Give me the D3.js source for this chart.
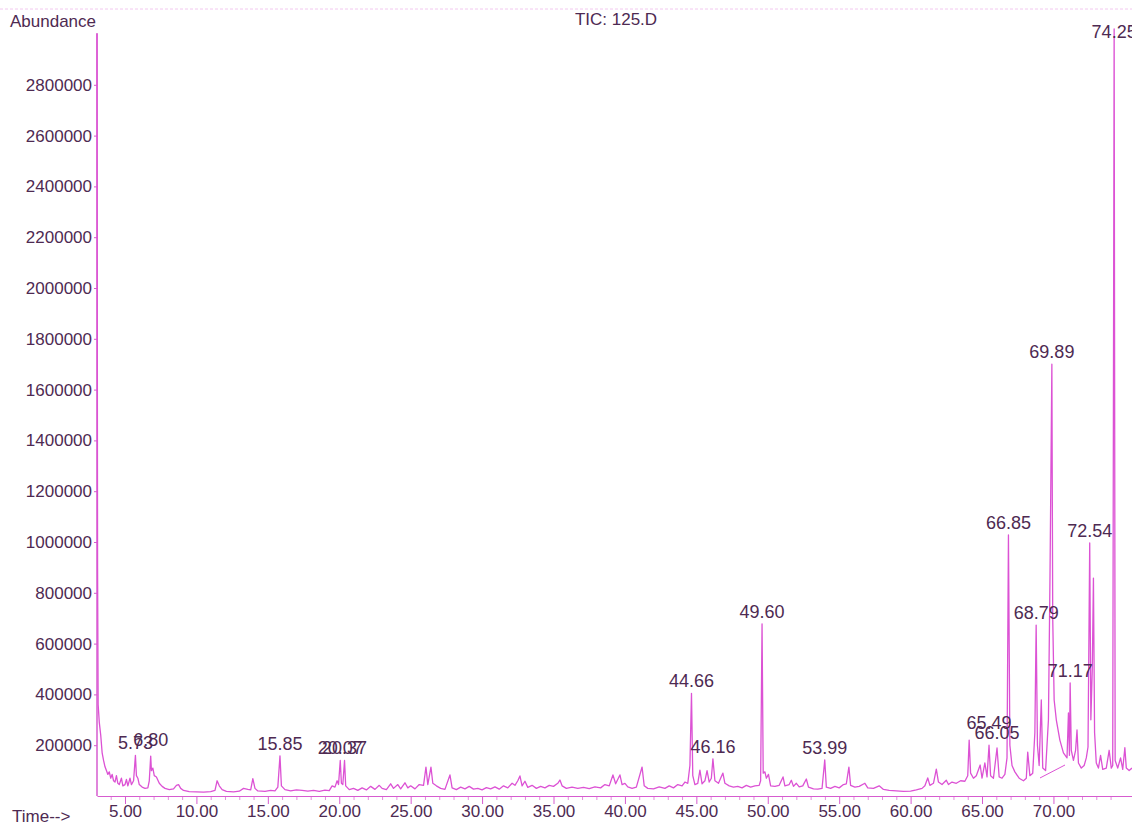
<!DOCTYPE html>
<html>
<head>
<meta charset="utf-8">
<script src="https://cdn.jsdelivr.net/npm/d3@7"></script>
<style>
  html, body { margin: 0; padding: 0; background: #ffffff; }
  svg { display: block; }
  text { font-family: "Liberation Sans", Arial, sans-serif; }
</style>
</head>
<body>
<svg id="chart" width="1132" height="826"></svg>
<script>
// ---- data ----
const title = "TIC: 125.D";
const yTickValues = [200000, 400000, 600000, 800000, 1000000, 1200000, 1400000, 1600000, 1800000, 2000000, 2200000, 2400000, 2600000, 2800000];
const xTickValues = [5, 10, 15, 20, 25, 30, 35, 40, 45, 50, 55, 60, 65, 70];

const traceTimes = [
  3.04, 3.08, 3.12, 3.2, 3.3, 3.4, 3.5, 3.6, 3.7, 3.8, 3.9, 4.0, 4.1, 4.2, 4.3, 4.4, 4.5, 4.6, 4.75, 4.85,
  5.0, 5.1, 5.2, 5.35, 5.45, 5.6, 5.73, 5.8, 5.9, 6.0, 6.2, 6.4, 6.6, 6.7, 6.8, 6.85, 6.95, 7.05, 7.2, 7.4,
  7.6, 7.8, 8.1, 8.4, 8.6, 8.75, 8.9, 9.1, 9.5, 10.0, 10.5, 11.0, 11.3, 11.45, 11.6, 11.8, 12.1, 12.6, 13.0, 13.3,
  13.6, 13.8, 13.95, 14.1, 14.3, 14.8, 15.2, 15.5, 15.7, 15.85, 15.95, 16.2, 16.6, 17.0, 17.4, 17.8, 18.2, 18.6, 19.0, 19.3,
  19.5, 19.7, 19.85, 19.95, 20.07, 20.15, 20.25, 20.37, 20.45, 20.7, 21.0, 21.3, 21.6, 21.9, 22.2, 22.5, 22.8, 23.0, 23.3, 23.6,
  23.8, 24.1, 24.3, 24.6, 24.8, 25.0, 25.3, 25.6, 25.9, 26.07, 26.2, 26.42, 26.55, 26.8, 27.1, 27.4, 27.75, 27.9, 28.2, 28.5,
  28.8, 29.1, 29.4, 29.7, 30.0, 30.3, 30.6, 30.9, 31.2, 31.5, 31.8, 32.1, 32.3, 32.5, 32.65, 32.8, 33.0, 33.2, 33.5, 33.8,
  34.1, 34.4, 34.7, 35.0, 35.3, 35.45, 35.6, 35.9, 36.3, 36.7, 37.1, 37.5, 37.9, 38.3, 38.6, 38.9, 39.16, 39.35, 39.65, 39.8,
  40.0, 40.2, 40.5, 40.8, 41.2, 41.35, 41.6, 42.0, 42.4, 42.8, 43.1, 43.4, 43.7, 44.0, 44.2, 44.4, 44.55, 44.66, 44.75, 44.9,
  45.1, 45.25, 45.4, 45.6, 45.75, 45.9, 46.05, 46.16, 46.3, 46.55, 46.7, 46.86, 47.0, 47.3, 47.6, 47.9, 48.2, 48.5, 48.8, 49.1,
  49.4, 49.5, 49.6, 49.68, 49.8, 49.9, 50.05, 50.2, 50.5, 50.8, 51.07, 51.2, 51.5, 51.65, 51.8, 52.0, 52.2, 52.45, 52.7, 52.85,
  53.2, 53.5, 53.8, 53.99, 54.1, 54.4, 54.7, 55.0, 55.3, 55.5, 55.68, 55.8, 56.1, 56.4, 56.8, 57.0, 57.4, 57.8, 58.1, 58.5,
  59.0, 59.5, 60.0, 60.4, 60.8, 61.0, 61.2, 61.35, 61.6, 61.8, 61.95, 62.2, 62.5, 62.65, 62.9, 63.2, 63.5, 63.8, 64.0, 64.1,
  64.2, 64.4, 64.6, 64.87, 65.0, 65.2, 65.35, 65.49, 65.6, 65.8, 66.05, 66.2, 66.4, 66.6, 66.75, 66.85, 66.95, 67.1, 67.3, 67.6,
  67.9, 68.1, 68.2, 68.35, 68.55, 68.7, 68.79, 68.88, 69.0, 69.15, 69.25, 69.45, 69.65, 69.76, 69.89, 69.95, 70.05, 70.2, 70.45, 70.7,
  70.95, 71.05, 71.12, 71.17, 71.25, 71.4, 71.55, 71.65, 71.75, 71.95, 72.15, 72.3, 72.42, 72.54, 72.62, 72.72, 72.8, 72.88, 73.0, 73.15,
  73.3, 73.45, 73.7, 73.9, 74.05, 74.15, 74.25, 74.32, 74.5, 74.7, 74.85, 75.0, 75.1, 75.3, 75.5
];
const traceValues = [
  3000000, 900000, 360000, 290000, 240000, 170000, 140000, 115000, 100000, 85000, 95000, 70000, 85000, 60000, 55000, 80000, 50000, 45000, 70000, 40000,
  45000, 65000, 40000, 70000, 45000, 60000, 160000, 80000, 70000, 45000, 35000, 30000, 32000, 60000, 157000, 100000, 110000, 80000, 75000, 50000,
  38000, 30000, 25000, 28000, 42000, 45000, 30000, 22000, 17000, 16000, 15000, 17000, 22000, 60000, 40000, 25000, 18000, 16000, 19000, 30000,
  26000, 24000, 68000, 30000, 20000, 18000, 22000, 20000, 35000, 158000, 40000, 25000, 20000, 24000, 22000, 19000, 22000, 18000, 23000, 21000,
  40000, 35000, 60000, 45000, 140000, 50000, 45000, 140000, 40000, 25000, 30000, 22000, 32000, 24000, 38000, 26000, 42000, 30000, 25000, 48000,
  30000, 45000, 28000, 52000, 32000, 40000, 28000, 45000, 42000, 114000, 45000, 114000, 50000, 40000, 30000, 26000, 83000, 32000, 25000, 35000,
  28000, 38000, 27000, 30000, 24000, 33000, 28000, 36000, 27000, 40000, 32000, 50000, 42000, 60000, 79000, 40000, 58000, 34000, 42000, 30000,
  38000, 32000, 42000, 38000, 50000, 63000, 40000, 30000, 35000, 30000, 34000, 29000, 36000, 32000, 45000, 40000, 83000, 48000, 83000, 45000,
  50000, 36000, 30000, 35000, 114000, 40000, 30000, 28000, 36000, 30000, 40000, 32000, 45000, 40000, 55000, 50000, 120000, 404000, 80000, 45000,
  50000, 102000, 48000, 60000, 100000, 55000, 70000, 146000, 60000, 50000, 70000, 90000, 50000, 40000, 35000, 38000, 32000, 42000, 35000, 40000,
  42000, 60000, 678000, 90000, 95000, 70000, 85000, 40000, 38000, 42000, 75000, 40000, 45000, 62000, 38000, 50000, 36000, 40000, 67000, 35000,
  28000, 27000, 30000, 142000, 35000, 30000, 38000, 32000, 45000, 48000, 114000, 42000, 35000, 38000, 50000, 32000, 30000, 40000, 26000, 22000,
  20000, 18000, 19000, 24000, 30000, 40000, 71000, 42000, 50000, 106000, 55000, 45000, 62000, 45000, 55000, 50000, 60000, 58000, 80000, 220000,
  90000, 70000, 80000, 122000, 70000, 130000, 75000, 200000, 80000, 70000, 189000, 75000, 70000, 85000, 150000, 1028000, 200000, 120000, 95000, 70000,
  60000, 70000, 173000, 80000, 90000, 250000, 673000, 200000, 120000, 378000, 110000, 100000, 300000, 870000, 1700000, 700000, 378000, 300000, 220000, 170000,
  150000, 327000, 160000, 445000, 180000, 140000, 180000, 260000, 130000, 110000, 120000, 150000, 193000, 996000, 300000, 500000, 858000, 250000, 130000, 110000,
  160000, 105000, 110000, 180000, 110000, 120000, 3020000, 140000, 110000, 150000, 105000, 190000, 110000, 100000, 110000
];

// integration baseline under the 69.89 cluster
const baseTimes = [69.06, 70.81];
const baseValues = [71000, 122000];

// labelled peaks
const peakLabels = ["5.73", "6.80", "15.85", "20.07", "20.37", "44.66", "46.16", "49.60", "53.99", "65.49", "66.05", "66.85", "68.79", "69.89", "71.17", "72.54", "74.25"];
const peakLabelTimes = [5.73, 6.80, 15.85, 20.07, 20.37, 44.66, 46.16, 49.60, 53.99, 65.49, 66.05, 66.85, 68.79, 69.89, 71.17, 72.54, 74.25];
const peakLabelValues = [160000, 175000, 158000, 140000, 140000, 404000, 146000, 678000, 142000, 240000, 200000, 1028000, 673000, 1700000, 445000, 996000, 2960000];

// ---- drawing ----
const svg = d3.select("#chart");
const W = 1132, H = 826;
const mLeft = 97, mRight = 1132, mTop = 34, mBottom = 796;

const x = d3.scaleLinear().domain([3.04, 75.5]).range([mLeft, mRight]);
const y = d3.scaleLinear().domain([0, 3000000]).range([mBottom, mTop]);

const lineColor = "#dc52d4";
const textColor = "#4e2a52";
const axisColor = "#d65ccf";

// faint scan line at top
svg.append("line")
  .attr("x1", 0).attr("x2", W).attr("y1", 9).attr("y2", 9)
  .attr("stroke", "#f2c8ef").attr("stroke-width", 1).attr("stroke-dasharray", "3,2");

// y axis
const yAxis = d3.axisLeft(y).tickValues(yTickValues).tickFormat(d3.format("d")).tickSize(3).tickSizeOuter(0);
const gy = svg.append("g").attr("transform", `translate(${mLeft},0)`).call(yAxis);
gy.select(".domain").attr("stroke", axisColor).attr("stroke-width", 1.5).attr("d", `M0,${mTop - 1}V${mBottom}`);
gy.selectAll(".tick line").attr("stroke", axisColor);
gy.selectAll(".tick text").attr("fill", textColor).attr("font-size", 17).attr("x", -5)
  .style("font-family", "'Liberation Sans', Arial, sans-serif");

// x axis minor ticks
const minorTicks = d3.range(4, 76, 1).filter(t => t % 5 !== 0);
const gMinor = svg.append("g").attr("transform", `translate(0,${mBottom})`)
  .call(d3.axisBottom(x).tickValues(minorTicks).tickSize(4).tickFormat(""));
gMinor.select(".domain").remove();
gMinor.selectAll(".tick line").attr("stroke", axisColor).attr("stroke-opacity", 0.7);

// x axis major
const xAxis = d3.axisBottom(x).tickValues(xTickValues).tickFormat(d3.format(".2f")).tickSize(8).tickSizeOuter(0);
const gx = svg.append("g").attr("transform", `translate(0,${mBottom})`).call(xAxis);
gx.select(".domain").attr("stroke", axisColor).attr("stroke-width", 1.2);
gx.selectAll(".tick line").attr("stroke", axisColor);
gx.selectAll(".tick text").attr("fill", textColor).attr("font-size", 17).attr("dy", "0.55em").attr("y", 12)
  .style("font-family", "'Liberation Sans', Arial, sans-serif");

// trace
const traceData = traceTimes.map((t, i) => [t, traceValues[i]]);
const line = d3.line().x(d => x(d[0])).y(d => y(d[1]));
svg.append("path")
  .datum(traceData)
  .attr("d", line)
  .attr("fill", "none")
  .attr("stroke", lineColor)
  .attr("stroke-width", 1.3)
  .attr("stroke-linejoin", "round");

// baseline
const baseData = baseTimes.map((t, i) => [t, baseValues[i]]);
svg.append("path")
  .datum(baseData)
  .attr("d", line)
  .attr("fill", "none")
  .attr("stroke", lineColor)
  .attr("stroke-width", 1);

// peak labels
svg.append("g").selectAll("text")
  .data(peakLabels)
  .join("text")
  .attr("x", (d, i) => x(peakLabelTimes[i]))
  .attr("y", (d, i) => y(peakLabelValues[i]) - 6)
  .attr("text-anchor", "middle")
  .attr("fill", textColor)
  .attr("font-size", 18)
  .text(d => d);

// titles
svg.append("text").attr("x", 10).attr("y", 27).attr("fill", textColor).attr("font-size", 17).text("Abundance");
svg.append("text").attr("x", 616).attr("y", 25).attr("text-anchor", "middle").attr("fill", textColor).attr("font-size", 17).text(title);
svg.append("text").attr("x", 12).attr("y", 822).attr("fill", textColor).attr("font-size", 17).text("Time-->");
</script>
</body>
</html>
